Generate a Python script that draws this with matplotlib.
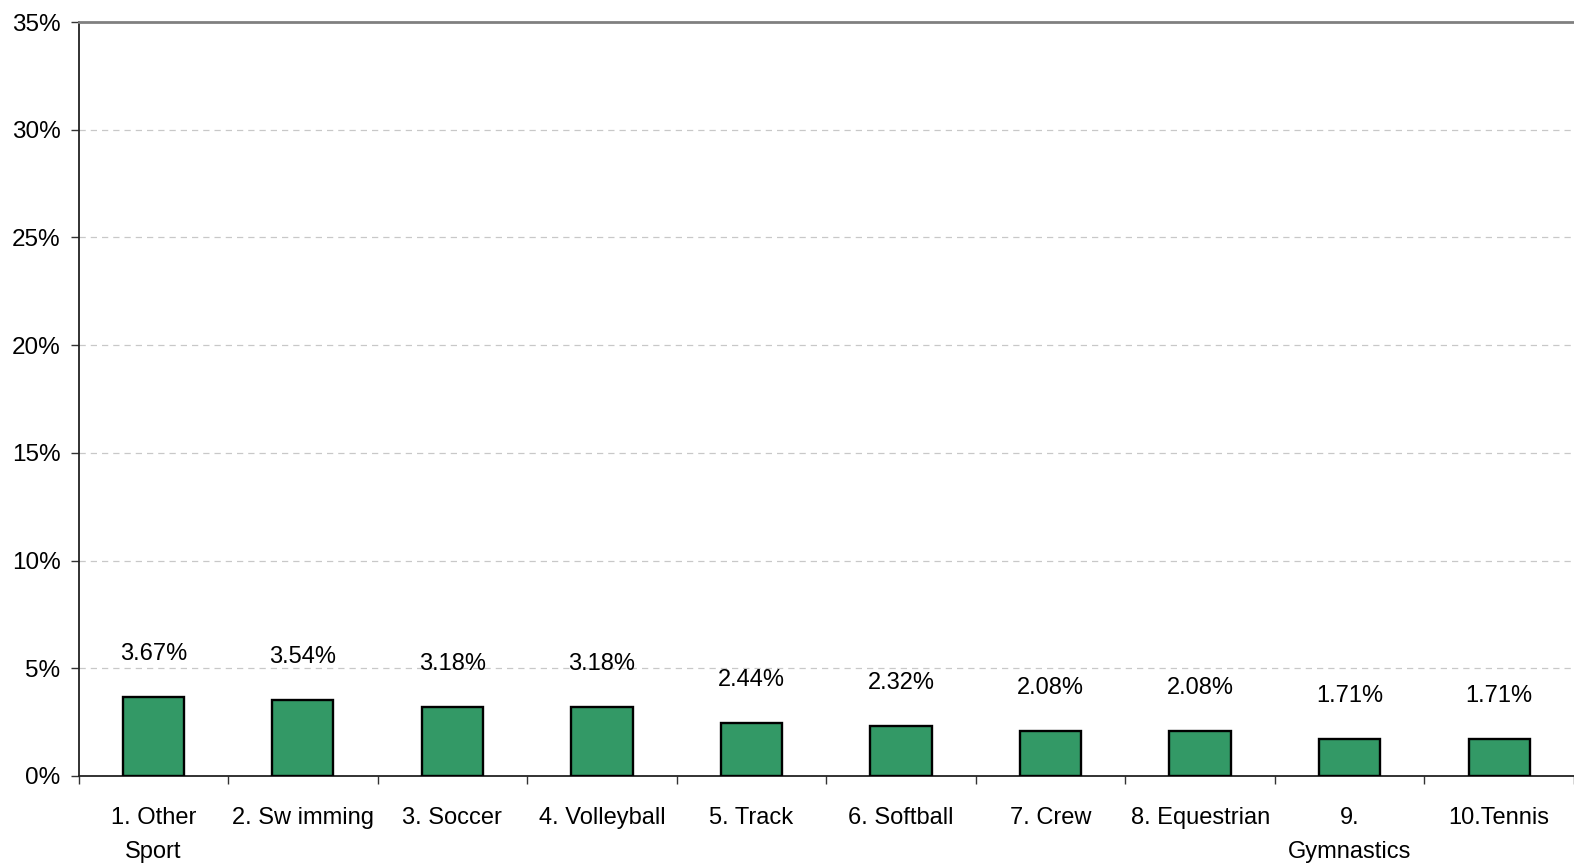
import numpy as np
import matplotlib.pyplot as plt
from matplotlib.ticker import FixedLocator, FuncFormatter

plt.rcParams['font.family'] = ['Liberation Sans', 'DejaVu Sans']

categories = ['1. Other\nSport', '2. Sw imming', '3. Soccer', '4. Volleyball',
              '5. Track', '6. Softball', '7. Crew', '8. Equestrian',
              '9.\nGymnastics', '10.Tennis']
values = [3.67, 3.54, 3.18, 3.18, 2.44, 2.32, 2.08, 2.08, 1.71, 1.71]
y_ticks = [0, 5, 10, 15, 20, 25, 30, 35]

W, H = 1574, 867
fig = plt.figure(figsize=(W / 100, H / 100), dpi=100)
ax = fig.add_axes([78.5 / W, 1 - 776 / H, (W - 78.5) / W, (776 - 22) / H])

x = np.arange(len(values))
ax.bar(x, values, width=0.41, color='#339966', edgecolor='black', linewidth=1.7, zorder=3)

# value labels above each bar
for xi, v in zip(x, values):
    ax.annotate(f'{v:.2f}%', (xi, v), xytext=(0, 31), textcoords='offset points',
                ha='center', va='center', fontsize=17, color='black')

ax.set_xlim(-0.5, len(values) - 0.5)
ax.set_ylim(0, 35)

ax.set_yticks(y_ticks)
ax.yaxis.set_major_formatter(FuncFormatter(lambda v, p: f'{v:.0f}%'))
ax.tick_params(axis='y', length=6, width=1, color='#333333', labelsize=17.5, pad=7)
ax.grid(axis='y', color='#c8c8c8', linestyle=(0, (5, 4)), linewidth=0.9, zorder=0)

# ticks between categories, labels centered under bars
ax.xaxis.set_major_locator(FixedLocator(np.arange(-0.5, len(values), 1.0)))
ax.xaxis.set_major_formatter(FuncFormatter(lambda v, p: ''))
ax.xaxis.set_minor_locator(FixedLocator(x))
ax.set_xticklabels(categories, minor=True, fontsize=17, linespacing=1.75, va='top')
ax.tick_params(axis='x', which='major', length=6, width=1, color='#333333')
ax.tick_params(axis='x', which='minor', length=0, pad=22)

ax.spines['right'].set_visible(False)
ax.spines['top'].set_color('#808080')
ax.spines['top'].set_linewidth(2)
ax.spines['left'].set_color('#222222')
ax.spines['left'].set_linewidth(1.3)
ax.spines['bottom'].set_color('#222222')
ax.spines['bottom'].set_linewidth(1.3)

fig.savefig('out.png', dpi=100)
